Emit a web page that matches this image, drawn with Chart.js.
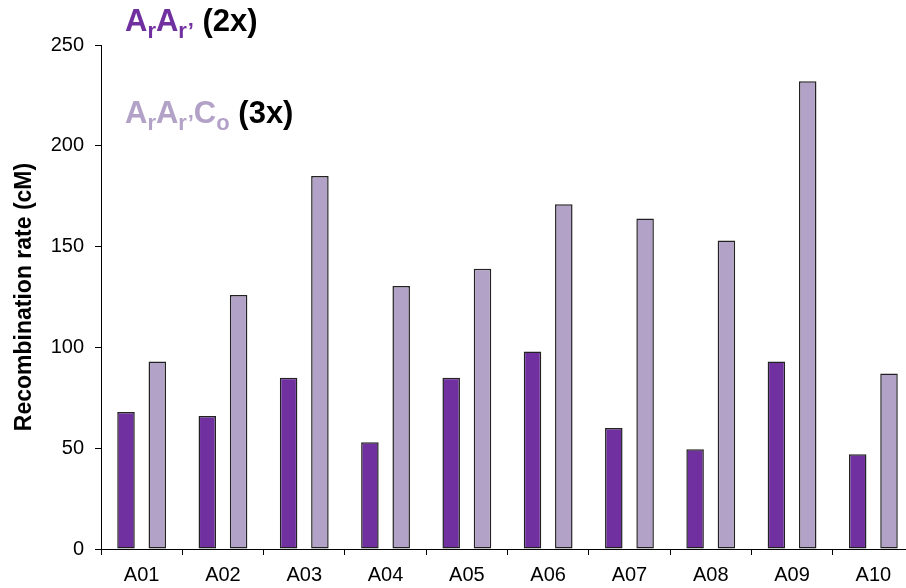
<!DOCTYPE html>
<html>
<head>
<meta charset="utf-8">
<script src="https://cdn.jsdelivr.net/npm/chart.js@4"></script>
<style>
  html, body { margin: 0; padding: 0; overflow: hidden; background: #fff; }
  #wrap { position: relative; width: 914px; height: 588px; }
  .key { position: absolute; left: 125px; font: bold 31px "Liberation Sans", Arial, sans-serif; line-height: 30px; white-space: nowrap; }
  .key sub { font-size: 22px; vertical-align: -7px; line-height: 0; }
  .k2 { color: #7030A0; top: 6px; }
  .k3 { color: #B3A2C7; top: 98px; }
  .blk { color: #000; }
</style>
</head>
<body>
<div id="wrap">
  <canvas id="barChart" width="914" height="588"></canvas>
  <div class="key k2">A<sub>r</sub>A<sub>r’</sub> <span class="blk">(2x)</span></div>
  <div class="key k3">A<sub>r</sub>A<sub>r’</sub>C<sub>o</sub> <span class="blk">(3x)</span></div>
</div>
<script>
const categories = ['A01', 'A02', 'A03', 'A04', 'A05', 'A06', 'A07', 'A08', 'A09', 'A10'];
const diploid = [68, 66, 85, 53, 85, 98, 60, 49.5, 93, 47];
const triploid = [93, 126, 185, 130.5, 139, 171, 164, 153, 232, 87];
const yTicks = [0, 50, 100, 150, 200, 250];

const font = { family: '"Liberation Sans", Arial, sans-serif', size: 20 };

const barChart = new Chart(
    document.getElementById('barChart').getContext('2d'), {
    type: 'bar',
    data: {
        labels: categories,
        datasets: [{
            label: "ArAr' (2x)",
            backgroundColor: '#7030A0',
            borderColor: '#222',
            borderWidth: 1.5,
            borderSkipped: false,
            data: diploid
        }, {
            label: "ArAr'Co (3x)",
            backgroundColor: '#B3A2C7',
            borderColor: '#222',
            borderWidth: 1.5,
            borderSkipped: false,
            data: triploid
        }]
    },
    options: {
        responsive: false,
        animation: false,
        categoryPercentage: 0.77,
        barPercentage: 0.56,
        layout: { padding: { top: 45, left: 0, right: 0, bottom: 0 } },
        plugins: {
            legend: { display: false },
            tooltip: { enabled: false }
        },
        scales: {
            x: {
                afterFit: (s) => { s.height = 39; },
                grid: { offset: true, drawOnChartArea: false, tickLength: 6, color: '#000' },
                border: { color: '#000', width: 1 },
                ticks: { color: '#000', font: font, padding: 8, maxRotation: 0 }
            },
            y: {
                min: 0,
                max: 250,
                afterFit: (s) => { s.width = 101; },
                afterBuildTicks: (s) => { s.ticks = yTicks.map(v => ({ value: v })); },
                grid: { drawOnChartArea: false, tickLength: 6, color: '#000' },
                border: { color: '#000', width: 1 },
                ticks: { color: '#000', font: font, padding: 11 },
                title: {
                    display: true,
                    text: 'Recombination rate (cM)',
                    color: '#000',
                    font: { family: font.family, size: 23, weight: 'bold' },
                    padding: { top: 11, bottom: 0 }
                }
            }
        }
    }
});
</script>
</body>
</html>
